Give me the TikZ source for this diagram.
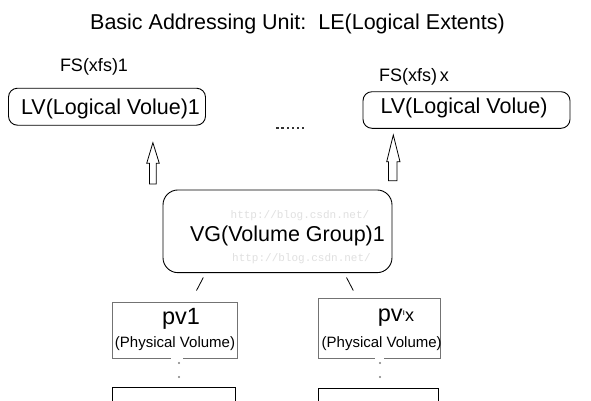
\documentclass[tikz,border=0pt]{standalone}
\usepackage{fontspec}
\setmainfont{Liberation Sans}
\newfontfamily\wmfont{Liberation Mono}
\begin{document}
\begin{tikzpicture}[x=1pt,y=-1pt,
  lvbox/.style={draw, line width=0.9pt, rounded corners=9pt, inner sep=0pt},
  vgbox/.style={draw, line width=0.9pt, rounded corners=15pt, inner sep=0pt},
  pvbox/.style={draw=black!55, line width=0.8pt, inner sep=0pt},
  lowbox/.style={draw, line width=0.9pt},
  txtlabel/.style={anchor=base, inner sep=0pt},
  hollowarrow/.style={draw, line width=0.8pt, fill=white},
  tickline/.style={line width=0.8pt},
  dotmark/.style={fill=black!50, draw=none},
  sqdot/.style={fill=black!80, draw=none},
  wm/.style={anchor=base, inner sep=0pt, text=black!12, font=\wmfont\fontsize{11}{13}\selectfont}
]
\clip (0,0) rectangle (591,400);
\fill[white] (0,0) rectangle (591,400);

% title
\node[txtlabel, font=\fontsize{21.5}{24}\selectfont] (title) at (297.5,29) {Basic Addressing Unit:\ \ LE(Logical Extents)};

% file systems
\node[txtlabel, font=\fontsize{18}{20}\selectfont] (fs1) at (94,71.5) {FS(xfs)1};
\node[txtlabel, font=\fontsize{18}{20}\selectfont] (fsx) at (414,81.5) {FS(xfs)\,x};

% logical volumes
\node[lvbox, minimum width=197pt, minimum height=37pt] (lv1) at (107,106.7) {};
\node[txtlabel, font=\fontsize{21.5}{24}\selectfont] (lv1t) at (110.5,114.3) {LV(Logical Volue)1};
\node[lvbox, minimum width=207pt, minimum height=36.6pt] (lvx) at (466.5,110) {};
\node[txtlabel, font=\fontsize{21.5}{24}\selectfont] (lvxt) at (464,113.5) {LV(Logical Volue)};

% ellipsis
\coordinate (dots) at (277.5,127.7);
\foreach \i in {0,...,5} {
  \fill[sqdot] ([xshift=\i*5.1pt]dots) ++(-1.2,-1.2) rectangle ++(2.4,2.4);
}

% hollow arrows
\draw[hollowarrow] (149.5,184) -- (149.5,163.3) -- (146.7,163.3) -- (152.9,142.7) -- (159.3,163.3) -- (156.3,163.3) -- (156.3,184) -- cycle;
\draw[hollowarrow] (388.5,180.7) -- (388.5,161.7) -- (386.7,161.7) -- (393.3,135) -- (400,161.7) -- (397,161.7) -- (397,180.7) -- cycle;

% volume group
\node[vgbox, minimum width=229pt, minimum height=82.7pt] (vg) at (277.5,231.3) {};
\node[wm] (wm1) at (300,218) {http://blog.csdn.net/};
\node[wm] (wm2) at (301.5,261.5) {http://blog.csdn.net/};
\node[txtlabel, font=\fontsize{21.5}{24}\selectfont] (vgt) at (287.5,241.5) {VG(Volume Group)1};

% small marks
\coordinate (m1a) at (203.3,277.5);
\coordinate (m1b) at (196.5,290.5);
\coordinate (m2a) at (346.5,277.5);
\coordinate (m2b) at (353.3,290.5);
\draw[tickline] (m1a) -- (m1b);
\draw[tickline] (m2a) -- (m2b);

% physical volumes
\node[pvbox, minimum width=125pt, minimum height=56pt] (pv1) at (174.5,330) {};
\draw[white, line width=2pt] (171,358) -- (183,358);
\node[txtlabel, font=\fontsize{23.5}{26}\selectfont] (pv1t) at (181,324.5) {pv1};
\node[txtlabel, font=\fontsize{15}{17}\selectfont] (pv1s) at (175,347.7) {(Physical Volume)};

\node[pvbox, minimum width=122pt, minimum height=60pt] (pvx) at (379.5,328) {};
\draw[white, line width=2pt] (375,358) -- (384,358);
\node[txtlabel, font=\fontsize{23.5}{26}\selectfont] (pvxt) at (396,321) {pv{\fontsize{9}{9}\selectfont\raisebox{6pt}{ı}}{\fontsize{18}{20}\selectfont x}};
\node[txtlabel, font=\fontsize{15}{17}\selectfont] (pvxs) at (381.7,347.5) {(Physical Volume)};

% dots between
\fill[dotmark] (179,363) circle (1.1);
\fill[dotmark] (179,377) circle (1.1);
\fill[dotmark] (380,363) circle (1.1);
\fill[dotmark] (380,377) circle (1.1);

% lower boxes (cut off)
\node[lowbox, minimum width=123pt, minimum height=40pt, inner sep=0pt] (pb1) at (173.5,407) {};
\node[lowbox, minimum width=120pt, minimum height=40pt, inner sep=0pt] (pbx) at (378,408) {};
\end{tikzpicture}
\end{document}
